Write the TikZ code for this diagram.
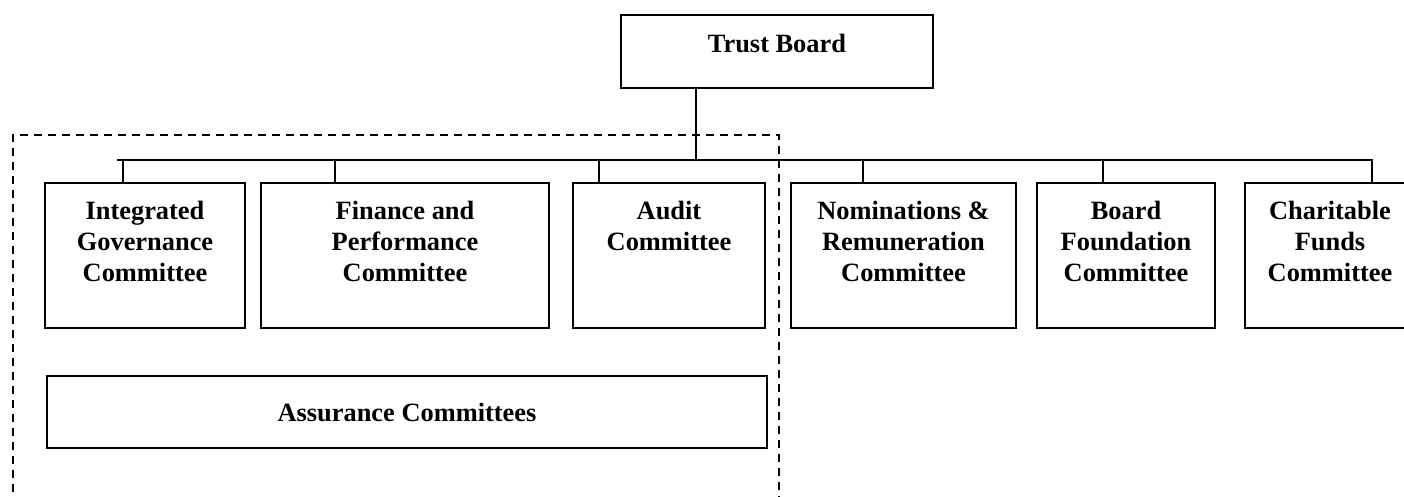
\documentclass[tikz,border=0pt]{standalone}
\usepackage{fontspec}
\setmainfont{Liberation Serif}
\begin{document}
\begin{tikzpicture}[x=0.5pt,y=-0.5pt,
  box/.style={draw, line width=1pt, rectangle, inner sep=0pt},
  lbl/.style={anchor=north, inner sep=0pt, align=center,
    font=\fontsize{13.2pt}{15.5pt}\selectfont\bfseries},
  wire/.style={line width=1pt},
  groupline/.style={line width=1pt, dash pattern=on 4pt off 3pt}]
\useasboundingbox (0,0) rectangle (1404,497);
\clip (0,0) rectangle (1404,497);

% top of the structure
\node[box, minimum width=156pt, minimum height=36.5pt] (tb) at (777,51.5) {};
\node[lbl] (tbt) at (777,34) {Trust Board};

% committees
\node[box, minimum width=100pt,   minimum height=72.5pt] (ig)  at (145,255.5)   {};
\node[box, minimum width=144pt,   minimum height=72.5pt] (fp)  at (405,255.5)   {};
\node[box, minimum width=96pt,    minimum height=72.5pt] (au)  at (669,255.5)   {};
\node[box, minimum width=112.5pt, minimum height=72.5pt] (nr)  at (903.5,255.5) {};
\node[box, minimum width=89pt,    minimum height=72.5pt] (bf)  at (1126,255.5)  {};
\node[box, minimum width=85pt,    minimum height=72.5pt] (cf)  at (1330,255.5)  {};

\node[lbl] (igt) at (145,201)  {Integrated\\Governance\\Committee};
\node[lbl] (fpt) at (405,201)  {Finance and\\Performance\\Committee};
\node[lbl] (aut) at (669,201)  {Audit\\Committee};
\node[lbl] (nrt) at (903.5,201) {Nominations \&\\Remuneration\\Committee};
\node[lbl] (bft) at (1126,201) {Board\\Foundation\\Committee};
\node[lbl] (cft) at (1330,201) {Charitable\\Funds\\Committee};

% assurance group
\node[box, minimum width=360pt, minimum height=36pt] (ac) at (407,412) {};
\node[lbl] (act) at (407,403) {Assurance Committees};
\draw[groupline] (13,520) -- (13,135) -- (779,135) -- (779,520);

% connectors
\coordinate (busL) at (117,160);
\coordinate (tj)   at (696,160);
\coordinate (s1)   at (123,160);
\coordinate (s2)   at (335,160);
\coordinate (s3)   at (599,160);
\coordinate (s4)   at (863,160);
\coordinate (s5)   at (1103,160);
\coordinate (s6)   at (1372,160);

\draw[wire] (tj |- tb.south) -- (tj);
\draw[wire] (busL) -- (s6) -- (s6 |- cf.north);
\draw[wire] (s1) -- (s1 |- ig.north);
\draw[wire] (s2) -- (s2 |- fp.north);
\draw[wire] (s3) -- (s3 |- au.north);
\draw[wire] (s4) -- (s4 |- nr.north);
\draw[wire] (s5) -- (s5 |- bf.north);
\end{tikzpicture}
\end{document}
